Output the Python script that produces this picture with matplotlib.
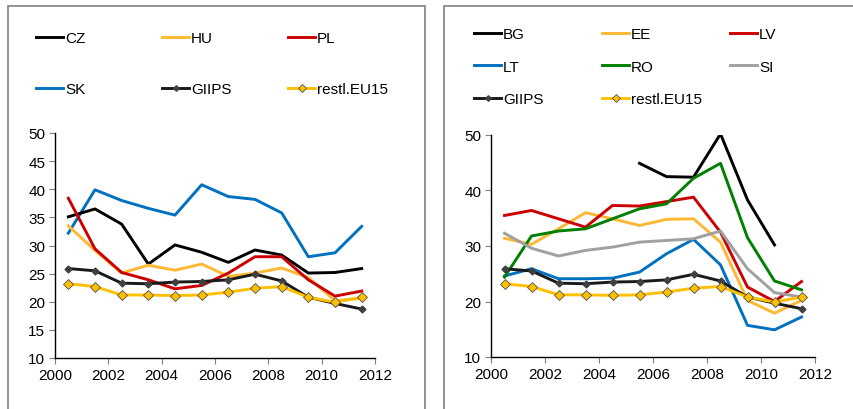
import numpy as np
import matplotlib.pyplot as plt
from matplotlib.patches import Rectangle

plt.rcParams['font.family'] = ['Liberation Sans', 'DejaVu Sans']

# years plotted at mid-year like the original Excel chart
years = np.arange(2000, 2012) + 0.5

# left panel
cz = [35.1, 36.5, 33.8, 26.7, 30.1, 28.8, 27.0, 29.2, 28.3, 25.1, 25.2, 25.9]
hu = [33.5, 29.1, 25.1, 26.5, 25.6, 26.7, 24.5, 25.1, 26.0, 24.3, 20.2, 20.6]
pl = [38.4, 29.4, 25.2, 23.9, 22.3, 22.9, 25.1, 28.0, 28.0, 23.9, 21.0, 21.9]
sk = [32.2, 39.9, 38.0, 36.6, 35.4, 40.8, 38.7, 38.2, 35.8, 28.0, 28.7, 33.4]

# shared benchmarks
giips = [25.9, 25.5, 23.3, 23.2, 23.5, 23.6, 23.9, 24.9, 23.7, 20.8, 19.7, 18.7]
restl = [23.2, 22.7, 21.2, 21.2, 21.1, 21.2, 21.7, 22.4, 22.7, 20.8, 19.9, 20.8]

# right panel
bg = [np.nan] * 5 + [44.9, 42.5, 42.4, 50.2, 38.3, 30.2, np.nan]
ee = [31.4, 30.3, 33.1, 36.0, 34.9, 33.7, 34.8, 34.9, 30.7, 20.2, 17.9, 20.2]
lv = [35.5, 36.4, 34.9, 33.4, 37.3, 37.2, 38.0, 38.8, 32.5, 22.6, 20.0, 23.6]
lt = [24.6, 25.9, 24.1, 24.1, 24.2, 25.3, 28.6, 31.2, 26.6, 15.7, 14.9, 17.2]
ro = [24.4, 31.8, 32.7, 33.1, 34.9, 36.7, 37.6, 42.2, 44.9, 31.5, 23.7, 22.1]
si = [32.3, 29.6, 28.2, 29.2, 29.8, 30.7, 31.0, 31.3, 32.7, 25.9, 21.6, 20.8]

BLACK = '#000000'
ORANGE = '#FFB833'
RED = '#CC0000'
BLUE = '#0070C0'
GREEN = '#008000'
GRAY = '#A0A0A0'
GOLD = '#FFC000'

fig = plt.figure(figsize=(8.54, 4.10), dpi=100)

# panel frames
fig.patches.append(Rectangle((8 / 854, -0.1), 417 / 854, 1.083, transform=fig.transFigure,
                             fill=False, edgecolor='#808080', lw=1.2))
fig.patches.append(Rectangle((444 / 854, -0.1), 0.6, 1.083, transform=fig.transFigure,
                             fill=False, edgecolor='#808080', lw=1.2))

ax1 = fig.add_axes([55 / 854, 51 / 410, 320 / 854, 225 / 410])
ax2 = fig.add_axes([491 / 854, 52 / 410, 324 / 854, 222 / 410])


def country(ax, y, c, lab):
    return ax.plot(years, y, color=c, lw=2.1, label=lab)[0]


def bench(ax):
    g = ax.plot(years, giips, color='#1a1a1a', lw=2.1, marker='D', ms=3.5,
                mfc='#404040', mec='#404040', label='GIIPS')[0]
    r = ax.plot(years, restl, color=GOLD, lw=2.1, marker='D', ms=5,
                mfc=GOLD, mec='#505050', mew=0.6, label='restl.EU15')[0]
    return g, r


h_left = [country(ax1, sk, BLUE, 'SK'), country(ax1, cz, BLACK, 'CZ'),
          country(ax1, hu, ORANGE, 'HU'), country(ax1, pl, RED, 'PL')]
g1, r1 = bench(ax1)

h_right = [country(ax2, bg, BLACK, 'BG'), country(ax2, ee, ORANGE, 'EE'),
           country(ax2, lv, RED, 'LV'), country(ax2, lt, BLUE, 'LT'),
           country(ax2, ro, GREEN, 'RO'), country(ax2, si, GRAY, 'SI')]
g2, r2 = bench(ax2)

for ax, step in ((ax1, 5), (ax2, 10)):
    ax.set_xlim(2000, 2012)
    ax.set_ylim(10, 50)
    ax.set_xticks(np.arange(2000, 2013, 2))
    ax.set_yticks(np.arange(10, 51, step))
    for s in ('top', 'right'):
        ax.spines[s].set_visible(False)
    for s in ('left', 'bottom'):
        ax.spines[s].set_linewidth(1.0)
    ax.tick_params(direction='out', length=4, color='#808080', labelsize=11, pad=3)
    ax.set_facecolor('none')


def col_legend(handles, x, y, spacing):
    lg = fig.legend(handles=handles, loc='upper left', bbox_to_anchor=(x / 854, 1 - y / 410),
                    frameon=False, fontsize=11, handlelength=1.8, handletextpad=0.1,
                    labelspacing=spacing, borderpad=0, borderaxespad=0, markerscale=0.8)
    return lg


# left legend: 3 columns x 2 rows
hl = {h.get_label(): h for h in h_left}
col_legend([hl['CZ'], hl['SK']], 36, 32, 2.45)
col_legend([hl['HU'], g1], 162, 32, 2.45)
col_legend([hl['PL'], r1], 288, 32, 2.45)

# right legend: 3 columns x 3 rows
hr = {h.get_label(): h for h in h_right}
col_legend([hr['BG'], hr['LT'], g2], 474, 28, 1.22)
col_legend([hr['EE'], hr['RO'], r2], 602, 28, 1.22)
col_legend([hr['LV'], hr['SI']], 730, 28, 1.22)

fig.savefig('out.png', dpi=100)
